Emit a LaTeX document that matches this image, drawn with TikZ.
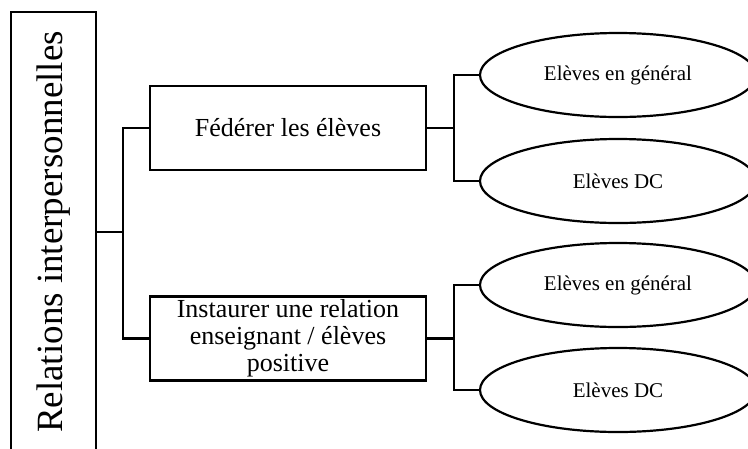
\documentclass[tikz,border=0pt]{standalone}
\usepackage{fontspec}
\setmainfont{Liberation Serif}
\usetikzlibrary{shapes.geometric}

\begin{document}
\begin{tikzpicture}[x=1pt, y=-1pt, line width=2.2pt,
    rootbox/.style={draw, rotate=90, minimum width=440pt, minimum height=85pt, inner sep=0pt, font=\fontsize{37}{40}\selectfont},
    taskbox/.style={draw, minimum width=276pt, minimum height=84pt, inner sep=0pt, align=center, font=\fontsize{26}{27}\selectfont},
    groupell/.style={draw, ellipse, minimum width=276pt, minimum height=84pt, inner sep=0pt, font=\fontsize{21}{23}\selectfont}]
        \useasboundingbox (0,0) rectangle (748,448);
        \clip (0,0) rectangle (748,448);
        \node[name=root, rootbox] at (53.5,232) {Relations interpersonnelles};
        \node[name=fed, taskbox] at (288,128) {Fédérer les élèves};
        \node[name=rel, taskbox] at (288,338.5) {Instaurer une relation\\enseignant / élèves\\positive};
        \node[name=fedgen, groupell] at (618,75) {Elèves en général};
        \node[name=feddc, groupell] at (618,181) {Elèves DC};
        \node[name=relgen, groupell] at (618,285) {Elèves en général};
        \node[name=reldc, groupell] at (618,390) {Elèves DC};
        % brackets
        \draw (root.south) -- ++(26,0) coordinate (j0);
        \draw (fed.west) -| (j0) |- (rel.west);
        \draw (fed.east) -- ++(27,0) coordinate (j1);
        \draw (fedgen.west) -| (j1) |- (feddc.west);
        \draw (rel.east) -- ++(27,0) coordinate (j2);
        \draw (relgen.west) -| (j2) |- (reldc.west);
    \end{tikzpicture}
\end{document}
